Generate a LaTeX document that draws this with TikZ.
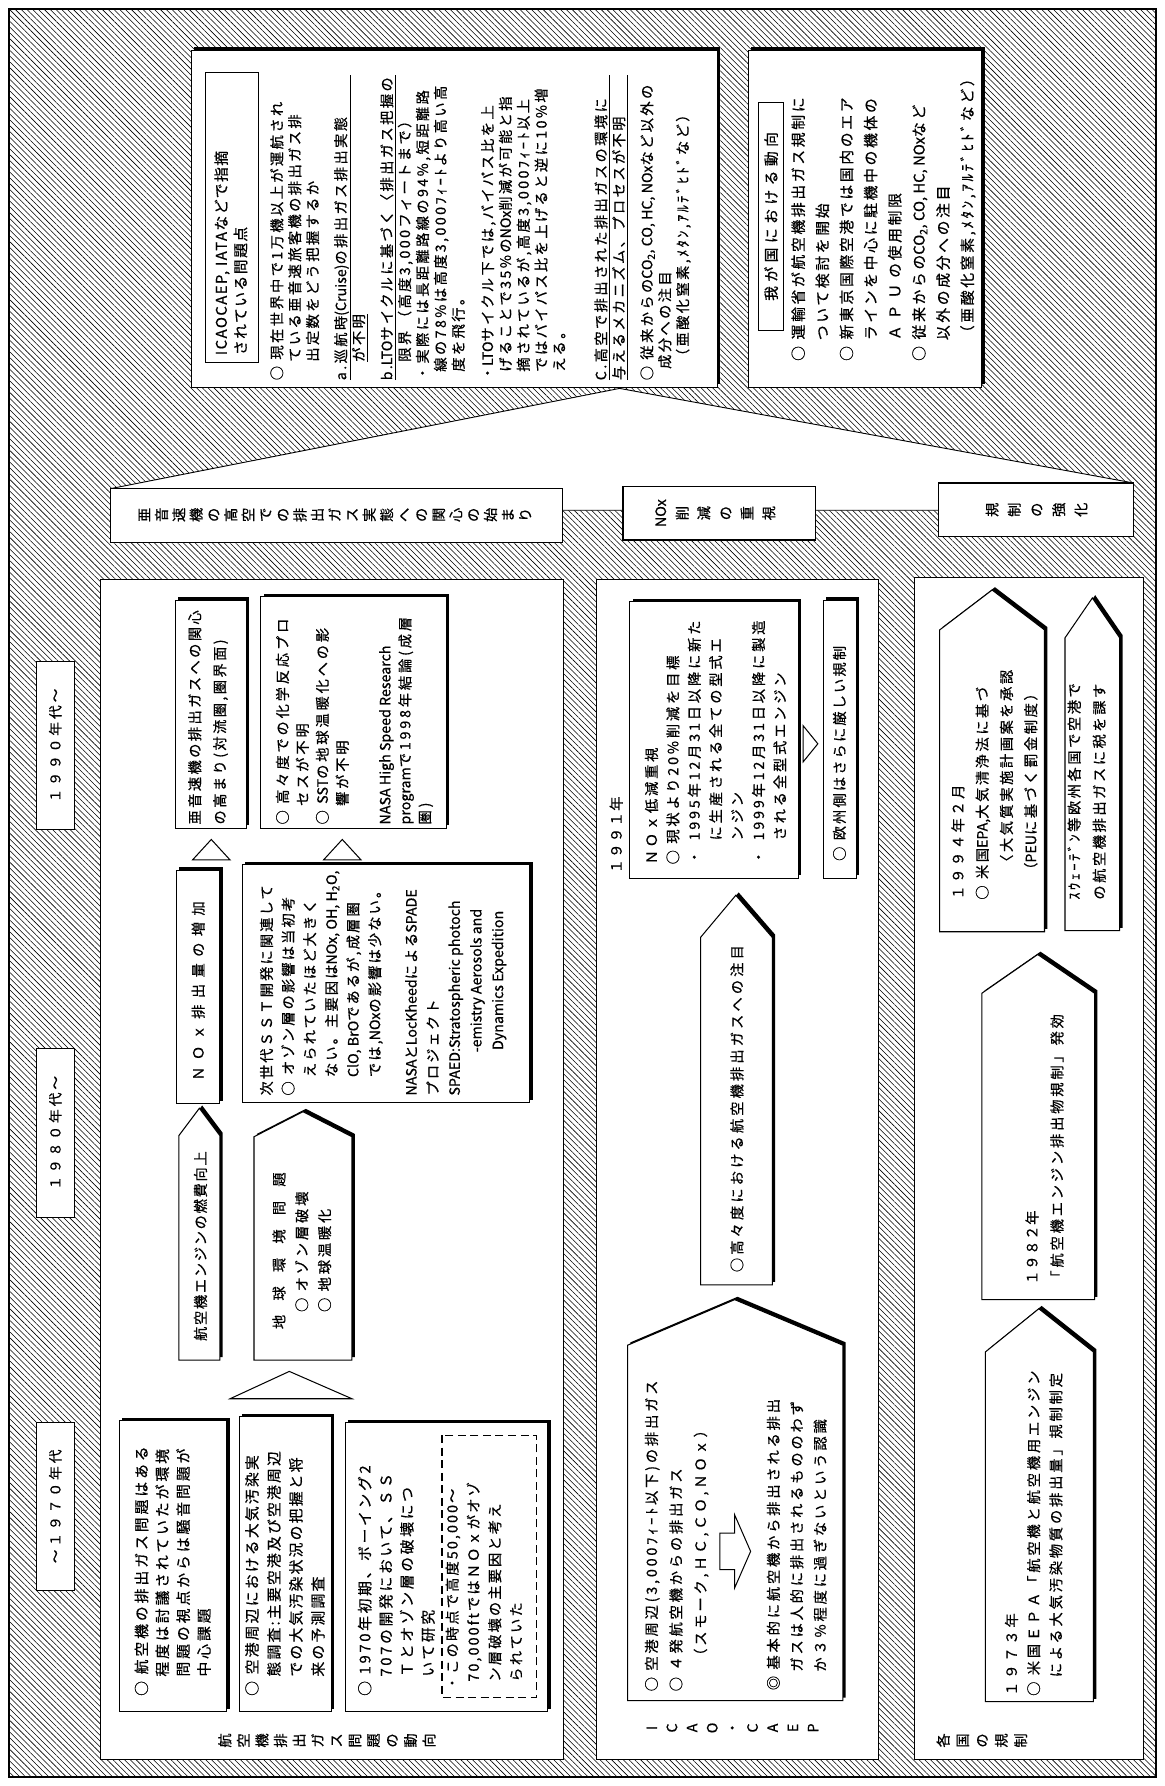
\documentclass[tikz,border=0pt]{standalone}
\usepackage{fontspec}
\setmainfont{Noto Sans CJK JP}[FakeBold=0.6]
\usetikzlibrary{patterns.meta}
\makeatletter
% characters stacked top to bottom (vertical writing before the page turn)
\newcommand\tate[2]{\vbox{\baselineskip=#1\relax\lineskiplimit=-\maxdimen
  \@tfor\t@c:=#2\do{\hbox to 1.5em{\hss\t@c\hss}}}}
\makeatother
\newcommand\jfs[3]{\fontsize{#1}{#2}\selectfont\addfontfeature{LetterSpace=#3}}
\newcommand\latn[1]{{\addfontfeature{LetterSpace=0}#1}}
\newcommand\idt[1][1.3em]{\hspace*{#1}}
\newcommand\mr{○\hspace{0.45em}}
\newcommand\ulw[2]{\underline{\makebox[#1][l]{#2}}}
% rectangle with a drop shadow on its upper and right sides
\newcommand\shrect[4]{%
  \fill (#1+2.5,#2-2.5) rectangle (#3+2.5,#4-2.5);
  \draw[boxline] (#1,#2) rectangle (#3,#4);}
% upward pointing pentagon arrow with shadow: xl, xr, tip x, tip y, shoulder y, bottom y
\newcommand\pent[6]{%
  \fill (#1+2.5,#6-2.5) -- (#1+2.5,#5-2.5) -- (#3+2.5,#4-2.5) -- (#2+2.5,#5-2.5) -- (#2+2.5,#6-2.5) -- cycle;
  \draw[boxline] (#1,#6) -- (#1,#5) -- (#3,#4) -- (#2,#5) -- (#2,#6) -- cycle;}

\begin{document}
\begin{tikzpicture}[x=1pt,y=-1pt,
  hatch/.style={pattern={Lines[angle=-45,distance=3.6pt,line width=0.5pt]}},
  boxline/.style={draw,fill=white,line width=0.9pt},
  lab/.style={draw,fill=white,line width=1.2pt},
  panel/.style={draw,fill=white,line width=1.1pt},
  plabel/.style={draw,fill=white,line width=0.6pt},
  tri/.style={draw,fill=white,line width=0.9pt,line join=miter},
  txt/.style={rotate=90,anchor=north west,align=left,inner sep=0pt},
  ctr/.style={rotate=90,inner sep=0pt}]
\useasboundingbox (0,0) rectangle (1022,1568);
\fill[white] (0,0) rectangle (1022,1568);
\fill[hatch] (8,8) rectangle (1015,1560);
\draw[line width=1.3pt] (8,8) rectangle (1015,1560);

% white fan joining the upper boxes to the row of headings
\filldraw[fill=white,line width=0.8pt] (544,341) -- (97,429) -- (97,448) -- (995,448) -- (995,424) -- cycle;

% ---------- upper boxes ----------
\shrect{168}{44}{630}{340}
\draw[line width=0.8pt] (180,64) rectangle (227,318);
\node[txt,font=\jfs{13}{17}{10}] (hdA) at (188,312) {ICAOCAEP, IATAなどで指摘\\されている問題点};
\node[txt,font=\jfs{12.5}{15.7}{17}] (icao) at (237,334) {%
\mr 現在世界中で1万機以上が運航され\\
\idt ている亜音速旅客機の排出ガス排\\
\idt 出定数をどう把握するか\\[9pt]
\ulw{268pt}{a.巡航時\latn{(Cruise)}の排出ガス排出実態}\\
\idt\underline{が不明}\\[9pt]
\ulw{268pt}{b.\latn{LTO}サイクルに基づく〈排出ガス把握の}\\
\idt 限界 （高度3,000フィートまで）\\
・実際には長距離路線の94\%,短距離路\\
\idt[0.6em]線の78\%は高度3,000ﾌｨｰﾄより高い高\\
\idt[0.6em]度を飛行。\\[10pt]
・\latn{LTO}サイクル下では,バイパス比を上\\
\idt[0.6em]げることで35\%の\latn{NOx}削減が可能と指\\
\idt[0.6em]摘されているが,高度3,000ﾌｨｰﾄ以上\\
\idt[0.6em]ではバイパス比を上げると逆に10\%増\\
\idt[0.6em]える。\\[21pt]
\ulw{268pt}{C.高空で排出された排出ガスの環境に}\\
\ulw{268pt}{与えるメカニズム、プロセスが不明}\\[9pt]
\mr 従来からの\latn{CO\textsubscript{2}, CO, HC, NOx}など以外の\\
\idt[0.8em]成分への注目\\
\idt[1.2em]（亜酸化窒素,ﾒﾀﾝ,ｱﾙﾃﾞﾋﾄﾞなど）};

\shrect{657}{44}{862}{340}
\draw[line width=0.8pt] (666,90) rectangle (688,290);
\node[ctr,font=\jfs{13}{15}{30}] (jpnh) at (677,190) {我が国における動向};
\node[txt,font=\jfs{13}{21.2}{18}] (jpn) at (694.5,317) {%
\mr 運輸省が航空機排出ガス規制に\\
\idt[1.4em]ついて検討を開始\\
\mr 新東京国際空港では国内のエア\\
\idt[1.4em]ラインを中心に駐機中の機体の\\
\idt[1.4em]Ａ Ｐ Ｕ の使用制限\\
\mr 従来からの\latn{CO\textsubscript{2}, CO, HC, NOx}など\\
\idt[1.4em]以外の成分への注目\\
\idt[1.4em]（亜酸化窒素,ﾒﾀﾝ,ｱﾙﾃﾞﾋﾄﾞなど）};

% ---------- row of headings ----------
\draw[lab] (97,429) rectangle (494,476);
\node[ctr,font=\jfs{12.5}{15}{0}] (topA) at (294,452) {\tate{15.2pt}{亜音速機の高空での排出ガス実態への関心の始まり}};
\draw[lab] (547,427) rectangle (716,474);
\node[ctr,font=\jfs{12.5}{15}{0}] (topB) at (628,450.5) {\tate{19pt}{{NOx}削減の重視}};
\draw[lab] (824,424) rectangle (995,471);
\node[ctr,font=\jfs{12.5}{15}{0}] (topC) at (910,447.5) {\tate{19.5pt}{規制の強化}};

% ---------- period labels ----------
\draw[plabel] (32,581) rectangle (65,728);
\node[ctr,font=\jfs{12}{14}{22}] (p90) at (48.5,654.5) {１９９０年代～};
\draw[plabel] (32,920) rectangle (65,1069);
\node[ctr,font=\jfs{12}{14}{22}] (p80) at (48.5,994.5) {１９８０年代～};
\draw[plabel] (32,1249) rectangle (65,1396);
\node[ctr,font=\jfs{12}{14}{22}] (p70) at (48.5,1322.5) {～１９７０年代};

% ---------- panels ----------
\draw[panel] (88,509) rectangle (495,1545);
\draw[panel] (524,509) rectangle (771,1545);
\draw[panel] (803,507) rectangle (1004,1545);

% ===== trends of aircraft exhaust =====
\shrect{154}{527}{216}{727}
\node[txt,font=\jfs{12.5}{22}{17}] (n90a) at (165,724) {亜音速機の排出ガスへの関心\\の高まり(対流圏,圏界面)};
\shrect{229}{524}{392}{727}
\node[txt,font=\jfs{12.5}{17.5}{20}] (n90b) at (242,724) {%
\mr 高々度での化学反応プロ\\
\idt セスが不明\\
\mr \latn{SST}の地球温暖化への影\\
\idt 響が不明\\[20pt]
\latn{NASA High Speed Research}\\
\latn{program}で1998年結論(成層\\
圏)};
\draw[tri] (169,755) -- (185.5,737) -- (202,755) -- cycle;
\draw[tri] (284,755) -- (300.5,737) -- (317,755) -- cycle;

\shrect{155}{764}{193}{969}
\node[ctr,font=\jfs{12.5}{15}{45}] (noxup) at (174,870) {ＮＯｘ排出量の増加};
\shrect{213}{759}{465}{968}
\node[txt,font=\jfs{12.5}{19}{15}] (sst) at (228,962) {%
次世代ＳＳＴ開発に関連して\\
\mr オゾン層の影響は当初考\\
\idt えられていたほど大きく\\
\idt ない。主要因は\latn{NOx, OH, H\textsubscript{2}O,}\\
\idt \latn{ClO, BrO}であるが,成層圏\\
\idt では,\latn{NOx}の影響は少ない。\\[13pt]
\latn{NASA}と\latn{LocKheed}による\latn{SPADE}\\
プロジェクト\\
\latn{SPAED:Stratospheric photoch}\\
\hspace*{38pt}\latn{-emistry Aerosols and}\\
\hspace*{40pt}\latn{Dynamics Expedition}};

\pent{157}{193}{175}{973}{997}{1194}
\node[ctr,font=\jfs{12.5}{15}{12}] (fuel) at (176,1094) {航空機エンジンの燃費向上};
\pent{223}{309}{266}{976}{998}{1194}
\node[txt,font=\jfs{12.5}{20}{20}] (earth) at (239,1167) {%
{\addfontfeature{LetterSpace=100}地球環境問題}\\
\idt[15pt]\mr オゾン層破壊\\
\idt[15pt]\mr 地球温暖化};
\draw[tri] (202,1228) -- (254,1204) -- (309,1228) -- cycle;

\shrect{105}{1247}{199}{1503}
\node[txt,font=\jfs{13}{18.3}{20}] (b70a) at (118,1489) {%
\mr 航空機の排出ガス問題はある\\
\idt 程度は討議されていたが環境\\
\idt 問題の視点からは騒音問題が\\
\idt 中心課題};
\shrect{210}{1244}{291}{1503}
\node[txt,font=\jfs{13}{19.3}{15}] (b70b) at (215,1489) {%
\mr 空港周辺における大気汚染実\\
\idt 態調査:主要空港及び空港周辺\\
\idt での大気汚染状況の把握と将\\
\idt 来の予測調査};
\shrect{303}{1249}{481}{1503}
\node[txt,font=\jfs{13}{18.5}{18}] (b70c) at (314,1489) {%
\mr 1970年初期、ボーイング2\\
\idt 707の開発において、ＳＳ\\
\idt Ｔとオゾン層の破壊につ\\
\idt いて研究};
\draw[line width=1pt,dash pattern=on 7pt off 4pt] (388,1260) rectangle (471,1490);
\node[txt,font=\jfs{12.5}{18.7}{15}] (dsh) at (391,1484) {%
・この時点で高度50,000～\\
\idt[0.6em]70,000ftではＮＯｘがオゾ\\
\idt[0.6em]ン層破壊の主要因と考え\\
\idt[0.6em]られていた};
\node[ctr,font=\jfs{12.5}{15}{0}] (lblB) at (287,1528) {\tate{16.3pt}{航空機排出ガス問題の動向}};

% ===== ICAO / CAEP =====
\node[txt,font=\jfs{12.5}{15}{10}] (y91) at (535,767) {１９９１年};
\shrect{553}{528}{701}{771}
\node[txt,font=\jfs{12.5}{18.8}{20}] (n91) at (566,759) {%
ＮＯｘ低減重視\\
\mr 現状より20\%削減を目標\\
\makebox[21pt][l]{・}1995年12月31日以降に新た\\
\idt[21pt]に生産される全ての型式エ\\
\idt[21pt]ンジン\\
\makebox[21pt][l]{・}1999年12月31日以降に製造\\
\idt[21pt]される全型式エンジン};
\draw[tri] (705,637) -- (718,653) -- (705,669) -- cycle;
\shrect{723}{527}{752}{771}
\node[txt,font=\jfs{12.5}{15}{15}] (eu) at (731,756) {\mr 欧州側はさらに厳しい規制};

\pent{615}{678}{646}{786}{823}{1128}
\node[txt,font=\jfs{12.5}{15}{22}] (alt) at (641,1117) {○高々度における航空機排出ガスへの注目};

\pent{551}{740}{645}{1141}{1181}{1493}
\node[txt,font=\jfs{12.5}{21.5}{20}] (apA) at (566,1485) {%
\mr 空港周辺(3,000ﾌｨｰﾄ以下)の排出ガス\\
\mr ４発航空機からの排出ガス\\
\idt[2em]（スモーク,ＨＣ,ＣＯ,ＮＯｘ）};
\draw[tri] (632,1346) -- (645,1346) -- (645,1330) -- (659,1362) -- (645,1394) -- (645,1378) -- (632,1378) -- cycle;
\node[txt,font=\jfs{12.5}{20.5}{20}] (apB) at (673,1484) {%
◎\hspace{0.45em}基本的に航空機から排出される排出\\
\idt ガスは人的に排出されるもののわず\\
\idt か３\%程度に過ぎないという認識};
\node[ctr,font=\jfs{12.5}{15}{0}] (lblC) at (643,1517) {\tate{17.7pt}{ICAO・CAEP}};

% ===== national regulations =====
\pent{825}{917}{871}{518}{553}{818}
\node[txt,font=\jfs{12.5}{21.3}{18}] (y94) at (835,790) {%
１９９４年２月\\
\mr 米国\latn{EPA,}大気清浄法に基づ\\
\idt[27pt]〈大気質実施計画案を承認\\
\idt[20pt]（\latn{PEU}に基づく罰金制度）};
\pent{935}{983}{959}{525}{560}{817}
\node[txt,font=\jfs{12.5}{22}{18}] (swe) at (937,790) {%
ｽｳｪｰﾃﾞﾝ等欧州各国で空港で\\
の航空機排出ガスに税を課す};
\pent{862}{961}{911}{838}{872}{1141}
\node[txt,font=\jfs{12.5}{22}{20}] (y82) at (900,1128) {%
{\addfontfeature{LetterSpace=5}１９８２年}\\
「航空機エンジン排出物規制」発効};
\pent{865}{960}{912}{1149}{1187}{1494}
\node[txt,font=\jfs{12.5}{19.5}{20}] (y73) at (882,1489) {%
１９７３年\\
\mr 米国ＥＰＡ「航空機と航空機用エンジン\\
\idt による大気汚染物質の排出量」規制制定};
\node[ctr,font=\jfs{12.5}{15}{0}] (lblD) at (862,1528) {\tate{17pt}{各国の規制}};
\end{tikzpicture}
\end{document}
